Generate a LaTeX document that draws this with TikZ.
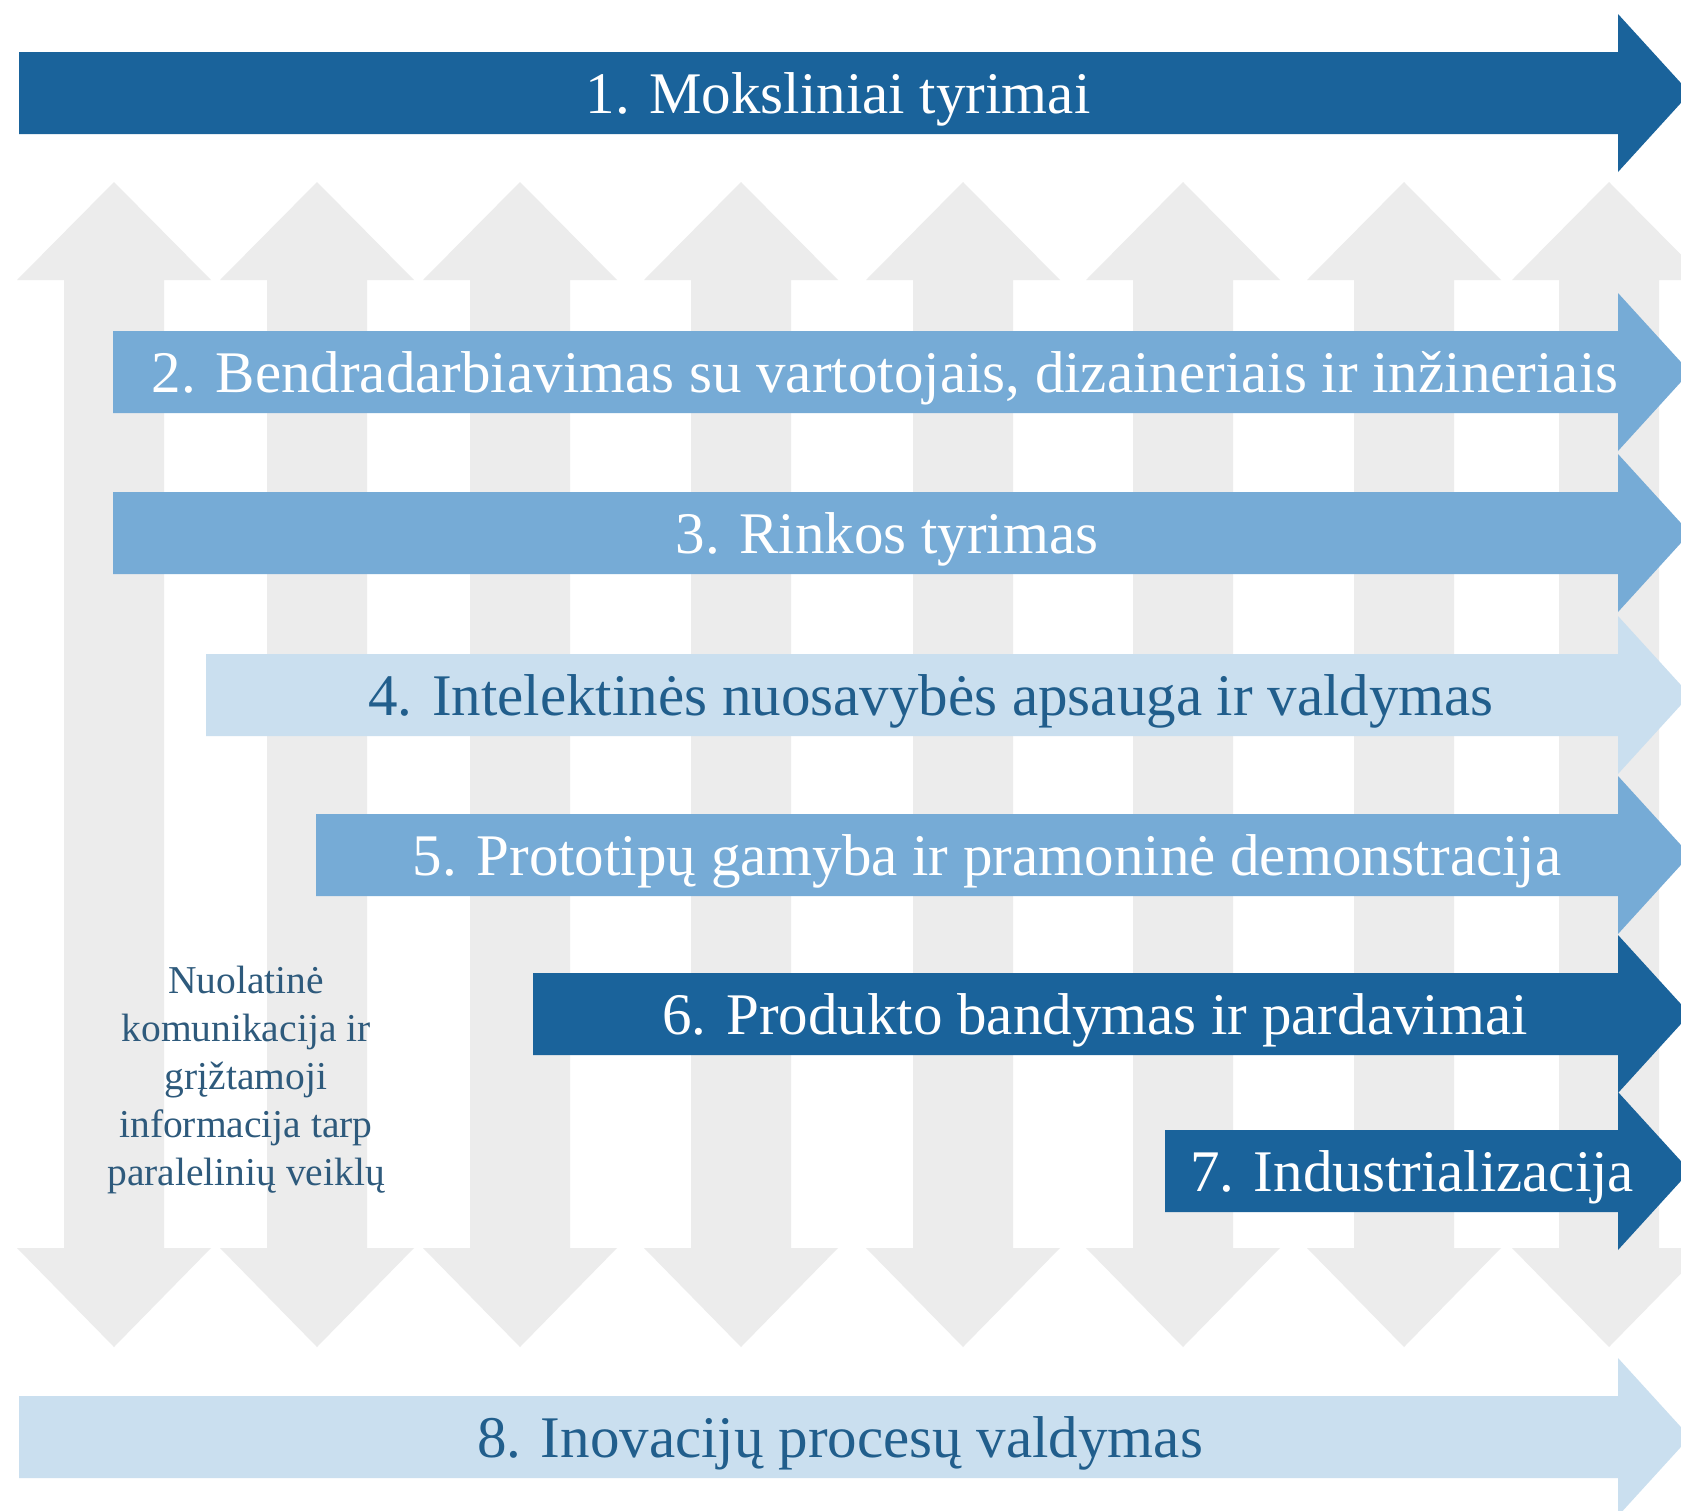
\documentclass[tikz,border=0pt]{standalone}
\usepackage{fontspec}
\setmainfont{Liberation Serif}
\definecolor{dkblue}{HTML}{1A639B}
\definecolor{mdblue}{HTML}{76ABD6}
\definecolor{ltblue}{HTML}{CADFEF}
\definecolor{gryarrow}{HTML}{ECECEC}
\definecolor{txtdark}{HTML}{215E8C}
\definecolor{txtside}{HTML}{2E5A7C}
\begin{document}
\begin{tikzpicture}[x=0.5pt,y=-0.5pt,
  bigtext/.style={font=\fontsize{29.5}{32}\selectfont, anchor=base, inner sep=0pt},
  sidetext/.style={font=\fontsize{19.75}{24}\selectfont, align=center, text=txtside, inner sep=0pt}]
\useasboundingbox (0,0) rectangle (1681,1510);
\clip (0,0) rectangle (1681,1510);
\fill[white] (0,0) rectangle (1681,1510);
% vertical double-headed grey arrows
\foreach \cx in {114,317,520,741,963,1183,1404,1609}{
  \fill[gryarrow] (\cx,182) -- (\cx+97,280) -- (\cx+50,280) -- (\cx+50,1248)
    -- (\cx+97,1248) -- (\cx,1347) -- (\cx-97,1248) -- (\cx-50,1248)
    -- (\cx-50,280) -- (\cx-97,280) -- cycle;
}
% horizontal arrows
\foreach \lx/\cy/\col in {19/93/dkblue,113/372/mdblue,113/533/mdblue,206/695/ltblue,316/855/mdblue,533/1014/dkblue,1165/1171/dkblue,19/1437/ltblue}{
  \fill[\col] (\lx,\cy-41) -- (1618,\cy-41) -- (1618,\cy-79) -- (1690,\cy)
    -- (1618,\cy+79) -- (1618,\cy+41) -- (\lx,\cy+41) -- cycle;
}
\node[bigtext, text=white] (t1) at (838,113) {1. Moksliniai tyrimai};
\node[bigtext, text=white] (t2) at (885,392) {2. Bendradarbiavimas su vartotojais, dizaineriais ir inžineriais};
\node[bigtext, text=white] (t3) at (887,553) {3. Rinkos tyrimas};
\node[bigtext, text=txtdark] (t4) at (931,715) {4. Intelektinės nuosavybės apsauga ir valdymas};
\node[bigtext, text=white] (t5) at (987,875) {5. Prototipų gamyba ir pramoninė demonstracija};
\node[bigtext, text=white] (t6) at (1095,1034) {6. Produkto bandymas ir pardavimai};
\node[bigtext, text=white] (t7) at (1412,1191) {7. Industrializacija};
\node[bigtext, text=txtdark] (t8) at (840,1457) {8. Inovacijų procesų valdymas};
\node[sidetext] (side) at (246,1080) {Nuolatinė\\komunikacija ir\\grįžtamoji\\informacija tarp\\paralelinių veiklų};
\end{tikzpicture}
\end{document}
